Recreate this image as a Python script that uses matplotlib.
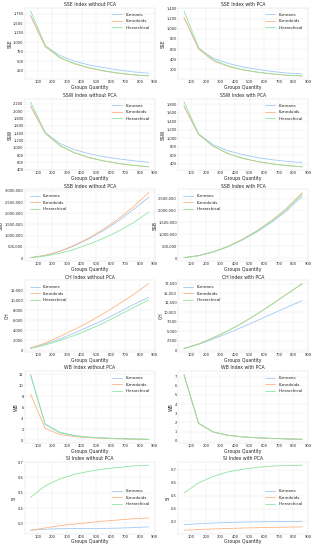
import numpy as np
import matplotlib
matplotlib.use("Agg")
import matplotlib.pyplot as plt
import seaborn as sns
from matplotlib.ticker import FuncFormatter, MultipleLocator

sns.set_style("whitegrid")
plt.rcParams['font.family'] = ['DejaVu Sans']

# groups quantity (x axis)
groups = [50, 150, 250, 350, 450, 550, 650, 750, 860]
methods = ['K-means', 'K-medoids', 'Hierarchical']

# SSE
sse_nopca_kmeans = [1700, 900, 650, 500, 400, 330, 270, 220, 180]
sse_nopca_kmedoids = [1690, 880, 590, 430, 320, 240, 180, 140, 110]
sse_nopca_hier = [1820, 920, 600, 440, 330, 250, 190, 145, 115]
sse_pca_kmeans = [1220, 610, 420, 320, 250, 200, 160, 130, 110]
sse_pca_kmedoids = [1230, 600, 370, 260, 190, 145, 110, 85, 70]
sse_pca_hier = [1350, 630, 390, 270, 195, 148, 112, 88, 70]

# SSW
ssw_nopca_kmeans = [2150, 1420, 1120, 950, 840, 760, 700, 650, 600]
ssw_nopca_kmedoids = [2140, 1400, 1060, 860, 730, 640, 570, 520, 480]
ssw_nopca_hier = [2260, 1420, 1070, 870, 740, 645, 575, 522, 480]
ssw_pca_kmeans = [1760, 1100, 850, 710, 620, 550, 500, 460, 430]
ssw_pca_kmedoids = [1750, 1090, 810, 640, 530, 455, 400, 360, 330]
ssw_pca_hier = [1860, 1110, 820, 650, 535, 460, 403, 362, 330]

# SSB
ssb_nopca_kmeans = [20000, 115000, 290000, 545000, 860000, 1230000, 1650000, 2140000, 2720000]
ssb_nopca_kmedoids = [20000, 120000, 305000, 570000, 900000, 1290000, 1740000, 2260000, 2920000]
ssb_nopca_hier = [15000, 90000, 210000, 390000, 620000, 880000, 1190000, 1560000, 2050000]
ssb_pca_kmeans = [15000, 100000, 255000, 475000, 760000, 1100000, 1500000, 1960000, 2600000]
ssb_pca_kmedoids = [15000, 100000, 260000, 490000, 790000, 1150000, 1580000, 2080000, 2750000]
ssb_pca_hier = [15000, 100000, 255000, 480000, 775000, 1130000, 1550000, 2030000, 2690000]

# CH
ch_nopca_kmeans = [400, 1200, 2200, 3400, 4700, 6000, 7500, 9000, 10550]
ch_nopca_kmedoids = [400, 1400, 2700, 4100, 5600, 7300, 9100, 11000, 13300]
ch_nopca_hier = [300, 1000, 1900, 2900, 4100, 5400, 6900, 8400, 10000]
ch_pca_kmeans = [500, 1600, 3000, 4500, 6100, 7800, 9500, 11200, 13000]
ch_pca_kmedoids = [500, 1700, 3300, 5100, 7200, 9500, 12000, 14600, 17500]
ch_pca_hier = [500, 1700, 3300, 5100, 7200, 9500, 12000, 14600, 17400]

# WB
wb_nopca_kmeans = [12.0, 3.0, 1.5, 0.9, 0.6, 0.45, 0.35, 0.28, 0.22]
wb_nopca_kmedoids = [8.4, 2.2, 1.1, 0.7, 0.5, 0.38, 0.3, 0.24, 0.19]
wb_nopca_hier = [11.8, 2.9, 1.4, 0.85, 0.58, 0.43, 0.33, 0.26, 0.2]
wb_pca_kmeans = [7.2, 1.9, 0.95, 0.6, 0.42, 0.32, 0.25, 0.2, 0.15]
wb_pca_kmedoids = [7.15, 1.88, 0.93, 0.58, 0.41, 0.31, 0.24, 0.19, 0.14]
wb_pca_hier = [7.25, 1.92, 0.96, 0.6, 0.42, 0.32, 0.25, 0.2, 0.15]

# SI
si_nopca_kmeans = [0.255, 0.262, 0.265, 0.266, 0.266, 0.267, 0.269, 0.272, 0.277]
si_nopca_kmedoids = [0.255, 0.27, 0.285, 0.295, 0.305, 0.315, 0.322, 0.33, 0.335]
si_nopca_hier = [0.47, 0.545, 0.59, 0.62, 0.64, 0.655, 0.665, 0.675, 0.68]
si_pca_kmeans = [0.275, 0.283, 0.288, 0.292, 0.295, 0.297, 0.299, 0.3, 0.301]
si_pca_kmedoids = [0.232, 0.238, 0.242, 0.246, 0.249, 0.252, 0.254, 0.256, 0.258]
si_pca_hier = [0.52, 0.60, 0.65, 0.685, 0.705, 0.72, 0.73, 0.735, 0.737]

panels = [
    ('SSE', 'without', [sse_nopca_kmeans, sse_nopca_kmedoids, sse_nopca_hier], 'upper right', 250),
    ('SSE', 'with', [sse_pca_kmeans, sse_pca_kmedoids, sse_pca_hier], 'upper right', 200),
    ('SSW', 'without', [ssw_nopca_kmeans, ssw_nopca_kmedoids, ssw_nopca_hier], 'upper right', 200),
    ('SSW', 'with', [ssw_pca_kmeans, ssw_pca_kmedoids, ssw_pca_hier], 'upper right', 200),
    ('SSB', 'without', [ssb_nopca_kmeans, ssb_nopca_kmedoids, ssb_nopca_hier], 'upper left', 500000),
    ('SSB', 'with', [ssb_pca_kmeans, ssb_pca_kmedoids, ssb_pca_hier], 'upper left', 500000),
    ('CH', 'without', [ch_nopca_kmeans, ch_nopca_kmedoids, ch_nopca_hier], 'upper left', 2000),
    ('CH', 'with', [ch_pca_kmeans, ch_pca_kmedoids, ch_pca_hier], 'upper left', 2500),
    ('WB', 'without', [wb_nopca_kmeans, wb_nopca_kmedoids, wb_nopca_hier], 'upper right', 2),
    ('WB', 'with', [wb_pca_kmeans, wb_pca_kmedoids, wb_pca_hier], 'upper right', 1),
    ('SI', 'without', [si_nopca_kmeans, si_nopca_kmedoids, si_nopca_hier], 'center right', 0.1),
    ('SI', 'with', [si_pca_kmeans, si_pca_kmedoids, si_pca_hier], 'center right', 0.1),
]

colors = ['#a1c9f4', '#ffb482', '#8de5a1']

fig, axes = plt.subplots(6, 2, figsize=(3.16, 5.5), dpi=100)
fig.subplots_adjust(left=0.078, right=0.975, top=0.986, bottom=0.03,
                    wspace=0.18, hspace=0.27)

comma = FuncFormatter(lambda v, p: '{:,.0f}'.format(v))

for ax, (name, pca, series, loc, ystep) in zip(axes.flat, panels):
    for vals, m, c in zip(series, methods, colors):
        ax.plot(groups, vals, color=c, lw=0.6, label=m)
    ax.set_title(f'{name} Index {pca} PCA', fontsize=3.3, pad=1.2)
    ax.set_xlabel('Groups Quantity', fontsize=3.3, labelpad=0.6)
    ax.set_ylabel(name, fontsize=3.3, labelpad=0.4)
    ax.set_xticks(range(100, 1000, 100))
    ax.yaxis.set_major_locator(MultipleLocator(ystep))
    ax.tick_params(labelsize=2.6, pad=0.8, length=0)
    if name in ('SSE', 'SSW', 'SSB', 'CH'):
        ax.yaxis.set_major_formatter(comma)
    ax.grid(lw=0.3, color='#ebebeb')
    for s in ax.spines.values():
        s.set_linewidth(0.3)
        s.set_color('#dddddd')
    ax.legend(loc=loc, fontsize=3.0, frameon=False, handlelength=2.4,
              borderaxespad=0.8, labelspacing=0.6)

fig.savefig('out.png', dpi=100)
